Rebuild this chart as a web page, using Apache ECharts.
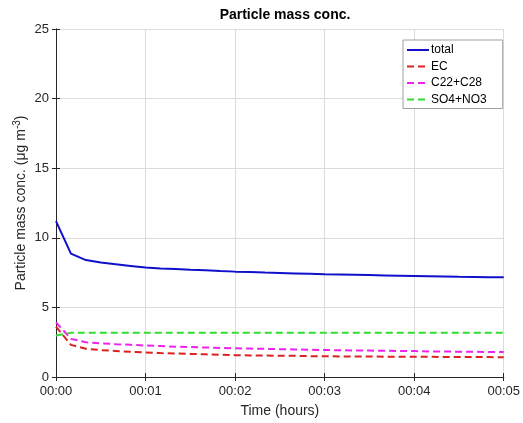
<!DOCTYPE html>
<html>
<head>
<meta charset="utf-8">
<script src="https://cdn.jsdelivr.net/npm/echarts@6/dist/echarts.min.js"></script>
<style>
html,body{margin:0;padding:0;background:#fff;}
#chart{width:523px;height:423px;}
</style>
</head>
<body>
<div id="chart"></div>
<script>
// time in seconds (10-second steps), plotted in minutes
var timeSec = [0,10,20,30,40,50,60,70,80,90,100,110,120,130,140,150,160,170,180,190,200,210,220,230,240,250,260,270,280,290,300];
var total = [11.2,8.86,8.40,8.22,8.10,7.98,7.86,7.80,7.75,7.70,7.66,7.61,7.57,7.54,7.50,7.47,7.44,7.41,7.38,7.36,7.34,7.32,7.30,7.28,7.26,7.24,7.22,7.20,7.19,7.17,7.16];
var ec = [3.62,2.31,2.03,1.93,1.87,1.81,1.76,1.72,1.69,1.66,1.63,1.60,1.57,1.55,1.54,1.53,1.52,1.50,1.49,1.48,1.47,1.47,1.46,1.46,1.45,1.45,1.44,1.44,1.43,1.43,1.42];
var c22c28 = [3.93,2.74,2.50,2.42,2.36,2.31,2.26,2.22,2.18,2.15,2.12,2.09,2.06,2.04,2.02,2.00,1.98,1.96,1.94,1.92,1.91,1.90,1.88,1.87,1.86,1.84,1.83,1.82,1.81,1.80,1.79];
var so4no3 = [2.98,3.17,3.17,3.17,3.17,3.17,3.17,3.17,3.17,3.17,3.17,3.17,3.17,3.17,3.17,3.17,3.17,3.17,3.17,3.17,3.17,3.17,3.17,3.17,3.17,3.17,3.17,3.17,3.17,3.17,3.17];
var xTickLabels = ['00:00','00:01','00:02','00:03','00:04','00:05'];
var seriesNames = ['total','EC','C22+C28','SO4+NO3'];

function pairs(vals){ return vals.map(function(v,i){ return [timeSec[i]/60, v]; }); }

var font = 'Liberation Sans, Arial, Helvetica, sans-serif';
var axisColor = '#262626';
var chart = echarts.init(document.getElementById('chart'), null, {renderer:'canvas'});
var tickCommon = {show:true, inside:true, length:4, lineStyle:{color:axisColor, width:1}};
var option = {
  animation:false,
  backgroundColor:'#fff',
  title:{text:'Particle mass conc.', left:280, textAlign:'center', top:3,
    textStyle:{fontFamily:font, fontSize:14, fontWeight:'bold', color:'#000'}},
  grid:{left:56, right:19, top:29, bottom:44, containLabel:false},
  legend:{
    orient:'vertical', left:403, top:40,
    data:seriesNames.map(function(n){ return {name:n, itemStyle:{opacity:0}}; }),
    backgroundColor:'#fff', borderColor:'#a0a0a0', borderWidth:1, borderRadius:0,
    padding:[4,16,3,3], itemGap:4.5, itemWidth:22, itemHeight:12,
    textStyle:{fontFamily:font, fontSize:12, color:'#000', padding:[0,0,0,-3]}
  },
  xAxis:[{
    type:'value', min:0, max:5, interval:1,
    name:'Time (hours)', nameLocation:'middle', nameGap:27,
    nameTextStyle:{fontFamily:font, fontSize:14, color:'#262626'},
    axisLine:{show:true, lineStyle:{color:axisColor, width:1}},
    axisTick:tickCommon,
    axisLabel:{fontFamily:font, fontSize:13, color:'#262626', margin:8,
      formatter:function(v){ return xTickLabels[Math.round(v)]; }},
    splitLine:{show:true, lineStyle:{color:'#dcdcdc', width:1}}
  },{
    type:'value', min:0, max:5, interval:1, position:'top',
    axisLine:{show:true, lineStyle:{color:axisColor, width:1}},
    axisTick:tickCommon, axisLabel:{show:false}, splitLine:{show:false}
  }],
  yAxis:[{
    type:'value', min:0, max:25, interval:5,
    name:'{a|Particle mass conc. (μg m}{s|-3}{a|)}', nameLocation:'middle', nameGap:35,
    nameMoveOverlap:false,
    nameTextStyle:{verticalAlign:'middle', rich:{
      a:{fontFamily:font, fontSize:14, color:'#262626'},
      s:{fontFamily:font, fontSize:10, color:'#262626', verticalAlign:'top', padding:[0,0,8,0]}
    }},
    axisLine:{show:true, lineStyle:{color:axisColor, width:1}},
    axisTick:tickCommon,
    axisLabel:{fontFamily:font, fontSize:13, color:'#262626', margin:7},
    splitLine:{show:true, lineStyle:{color:'#dcdcdc', width:1}}
  },{
    type:'value', min:0, max:25, interval:5, position:'right',
    axisLine:{show:true, lineStyle:{color:axisColor, width:1}},
    axisTick:tickCommon, axisLabel:{show:false}, splitLine:{show:false}
  }],
  series:[
    {name:'total', type:'line', data:pairs(total), symbol:'none', color:'#1010cc',
      lineStyle:{width:2, color:'#1010cc'}},
    {name:'EC', type:'line', data:pairs(ec), symbol:'none', color:'#dd2020',
      lineStyle:{width:2, color:'#dd2020', type:[7,4]}},
    {name:'C22+C28', type:'line', data:pairs(c22c28), symbol:'none', color:'#ee22ee',
      lineStyle:{width:2, color:'#ee22ee', type:[7,4]}},
    {name:'SO4+NO3', type:'line', data:pairs(so4no3), symbol:'none', color:'#30dd30',
      lineStyle:{width:2, color:'#30dd30', type:[7,4]}}
  ]
};
chart.setOption(option);
</script>
</body>
</html>
